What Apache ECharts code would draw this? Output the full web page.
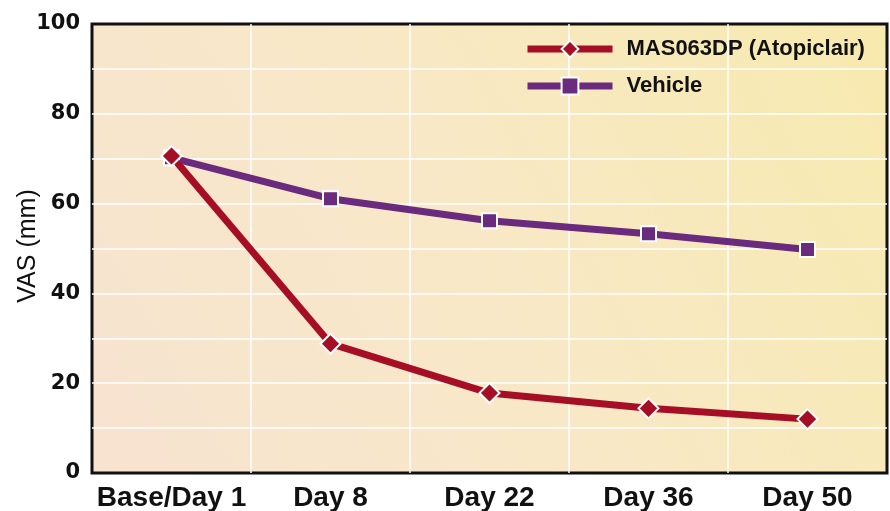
<!DOCTYPE html>
<html>
<head>
<meta charset="utf-8">
<script src="https://cdn.jsdelivr.net/npm/echarts@6/dist/echarts.min.js"></script>
<style>
  html, body { margin: 0; padding: 0; background: #fff; }
  #chart { width: 890px; height: 511px; }
</style>
</head>
<body>
<div id="chart"></div>
<script>
// 数据
var categories = ['Base/Day 1', 'Day 8', 'Day 22', 'Day 36', 'Day 50'];
var atopiclair = [70.6, 28.8, 17.8, 14.4, 12.0];
var vehicle = [70.2, 61.1, 56.2, 53.3, 49.8];
var seriesNames = ['MAS063DP (Atopiclair)', 'Vehicle'];
var yName = 'VAS (mm)';

var myChart = echarts.init(document.getElementById('chart'));

var option = {
    animation: false,
    grid: {
        left: 92,
        right: 3,
        top: 24,
        bottom: 38,
        containLabel: false,
        outerBoundsMode: 'none',
        show: true,
        borderColor: '#111',
        borderWidth: 3,
        backgroundColor: new echarts.graphic.LinearGradient(0, 1, 1, 0, [
            {offset: 0, color: '#f7e3d1'},
            {offset: 0.5, color: '#f8e8c6'},
            {offset: 1, color: '#f7eaae'}
        ])
    },
    // y轴名称
    graphic: [{
        type: 'text',
        x: 28,
        y: 246,
        rotation: Math.PI / 2,
        style: {
            text: yName,
            fontFamily: 'Liberation Sans',
            fontSize: 25,
            fill: '#111',
            textAlign: 'center',
            textVerticalAlign: 'middle'
        }
    }],
    legend: {
        data: seriesNames,
        orient: 'vertical',
        left: 524,
        top: 38,
        padding: 0,
        itemWidth: 85,
        itemHeight: 21,
        itemGap: 15,
        lineStyle: {width: 7},
        textStyle: {
            fontFamily: 'Liberation Sans',
            fontWeight: 'bold',
            fontSize: 22,
            color: '#111',
            padding: [0, 0, 0, 9]
        }
    },
    xAxis: {
        type: 'category',
        data: categories,
        boundaryGap: true,
        axisLine: {show: false},
        axisTick: {show: false},
        axisLabel: {
            interval: 0,
            margin: 11,
            fontFamily: 'Liberation Sans',
            fontWeight: 'bold',
            fontSize: 28,
            color: '#111'
        },
        splitLine: {
            show: true,
            interval: 0,
            showMinLine: false,
            showMaxLine: false,
            lineStyle: {color: '#fff', width: 1.5}
        }
    },
    yAxis: {
        type: 'value',
        min: 0,
        max: 100,
        interval: 10,
        axisLine: {show: false},
        axisTick: {show: false},
        axisLabel: {
            margin: 12,
            fontFamily: 'DejaVu Sans',
            fontWeight: 'bold',
            fontSize: 21,
            color: '#111',
            formatter: function (v) {
                return v % 20 === 0 ? v : '';
            }
        },
        splitLine: {
            show: true,
            showMinLine: false,
            showMaxLine: false,
            lineStyle: {color: '#fff', width: 1.5}
        }
    },
    series: [
        {
            name: seriesNames[0],
            type: 'line',
            data: atopiclair,
            z: 3,
            lineStyle: {color: '#a50e25', width: 7},
            itemStyle: {color: '#a50e25', borderColor: '#fff', borderWidth: 2},
            symbol: 'diamond',
            symbolSize: 20
        },
        {
            name: seriesNames[1],
            type: 'line',
            data: vehicle,
            z: 2,
            lineStyle: {color: '#6a2a7d', width: 7},
            itemStyle: {color: '#6a2a7d', borderColor: '#fff', borderWidth: 2},
            symbol: 'rect',
            symbolSize: 15
        }
    ]
};

myChart.setOption(option);
</script>
</body>
</html>
